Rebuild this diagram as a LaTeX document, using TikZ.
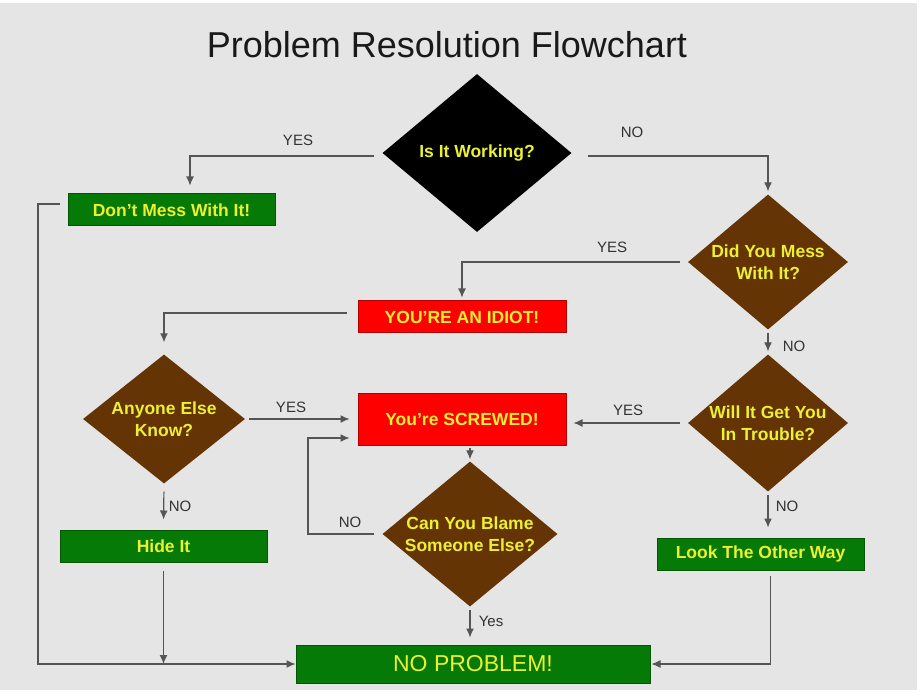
\documentclass[tikz,border=0pt]{standalone}
\usepackage{fontspec}
\setmainfont{Liberation Sans}
\usepackage{tikz}
\usetikzlibrary{shapes, arrows, arrows.meta}
\definecolor{bg}{RGB}{229,229,229}
\definecolor{txt}{RGB}{236,240,50}
\definecolor{grn}{RGB}{6,122,6}
\definecolor{brn}{RGB}{100,52,4}
\definecolor{wire}{RGB}{85,85,85}

\begin{document}
\begin{tikzpicture}[x=1pt, y=-1pt,
box/.style={rectangle, draw=#1!70!black, line width=1pt, fill=#1, text=txt, font=\bfseries\fontsize{17.5}{20}\selectfont, inner sep=0pt},
ask/.style={diamond, fill=#1, inner sep=0pt},
qtext/.style={text=txt, align=center, font=\bfseries\fontsize{17.5}{22}\selectfont},
line/.style={draw=wire, line width=1.2pt, ->, >={Latex[length=9pt,width=8pt]}},
lbl/.style={text=black!80, font=\fontsize{15}{18}\selectfont, inner sep=0pt}]

\fill[white] (0,0) rectangle (923,700);
\fill[bg] (0,3) rectangle (917,690);
\node[text=black!90, font=\fontsize{36}{42}\selectfont] (title) at (447,45) {Problem Resolution Flowchart};

\node[ask=black, minimum width=189pt, minimum height=158pt, label={[qtext]center:Is It Working?}] (work) at (477,153) {};
\node[box=grn, minimum width=207pt, minimum height=32pt] (mess) at (171.5,210) {Don’t Mess With It!};
\node[ask=brn, minimum width=160pt, minimum height=135pt, label={[qtext]center:{Did You Mess\\With It?}}] (didmess) at (768,262) {};
\node[box=red, minimum width=208pt, minimum height=32pt] (idiot) at (462,317) {YOU’RE AN IDIOT!};
\node[ask=brn, minimum width=162pt, minimum height=129pt, label={[qtext]center:{Anyone Else\\Know?}}] (anyone) at (164,419) {};
\node[box=red, minimum width=208pt, minimum height=52pt] (screwed) at (462,419) {You’re SCREWED!};
\node[ask=brn, minimum width=160pt, minimum height=137pt, label={[qtext]center:{Will It Get You\\In Trouble?}}] (trouble) at (768,423) {};
\node[ask=brn, minimum width=175pt, minimum height=145pt, label={[qtext]center:{Can You Blame\\Someone Else?}}] (blame) at (470,534) {};
\node[box=grn, minimum width=207pt, minimum height=32pt] (hide) at (163.5,546) {Hide It};
\node[box=grn, minimum width=207pt, minimum height=32pt] (look) at (760.5,554) {Look The Other Way};
\node[box=grn, minimum width=354pt, minimum height=38pt, font=\fontsize{23}{26}\selectfont] (noprob) at (473,664) {NO PROBLEM!};

\coordinate (back) at (308,438);
\coordinate (corner) at (38,664);

\draw[line, shorten <=8pt, shorten >=8pt] ([yshift=-3pt]work.west) -| ([xshift=18.5pt]mess.north);
\draw[line, shorten <=16pt, shorten >=3pt] ([yshift=-3pt]work.east) -| (didmess.north);
\draw[line, shorten <=8pt, shorten >=3pt] (didmess.west) -| (idiot.north);
\draw[line, shorten <=11pt, shorten >=12pt] ([yshift=4pt]idiot.west) -| (anyone.north);
\draw[line, shorten <=4pt, shorten >=8pt] (anyone.east) -- (screwed.west);
\draw[line, shorten <=3pt, shorten >=3pt] (didmess.south) -- (trouble.north);
\draw[line, shorten <=8pt, shorten >=7pt] (trouble.west) -- (trouble.west -| screwed.east);
\draw[line, shorten <=2pt, shorten >=2pt] (blame.north |- screwed.south) -- (blame.north);
\draw[line, shorten <=8pt, shorten >=8pt] (blame.west) -| (back) -- (back -| screwed.west);
\draw[line, shorten <=3pt, shorten >=7pt] (blame.south) -- (blame.south |- noprob.north);
\draw[line, shorten <=3pt, shorten >=10pt] (trouble.south) -- (trouble.south |- look.north);
\draw[line, shorten <=5pt, shorten >=1pt] ([xshift=10pt]look.south) |- (noprob.east);
\draw[line, shorten <=8pt, shorten >=10pt] (anyone.south) -- (hide.north);
\draw[line, shorten <=8pt] (hide.south) -- (hide.south |- noprob.west);
\draw[line, shorten <=8pt] ([yshift=6pt]mess.west) -| (corner) -- (noprob.west);

\node[lbl] (yes1) at (298,140) {YES};
\node[lbl] (no1) at (632,132) {NO};
\node[lbl] (yes2) at (612,247) {YES};
\node[lbl] (no2) at (794,346) {NO};
\node[lbl] (yes3) at (291,407) {YES};
\node[lbl] (yes4) at (628,410) {YES};
\node[lbl] (no3) at (180,506) {NO};
\node[lbl] (no4) at (350,522) {NO};
\node[lbl] (no5) at (787,506) {NO};
\node[lbl] (yes5) at (491,621) {Yes};
\end{tikzpicture}
\end{document}
